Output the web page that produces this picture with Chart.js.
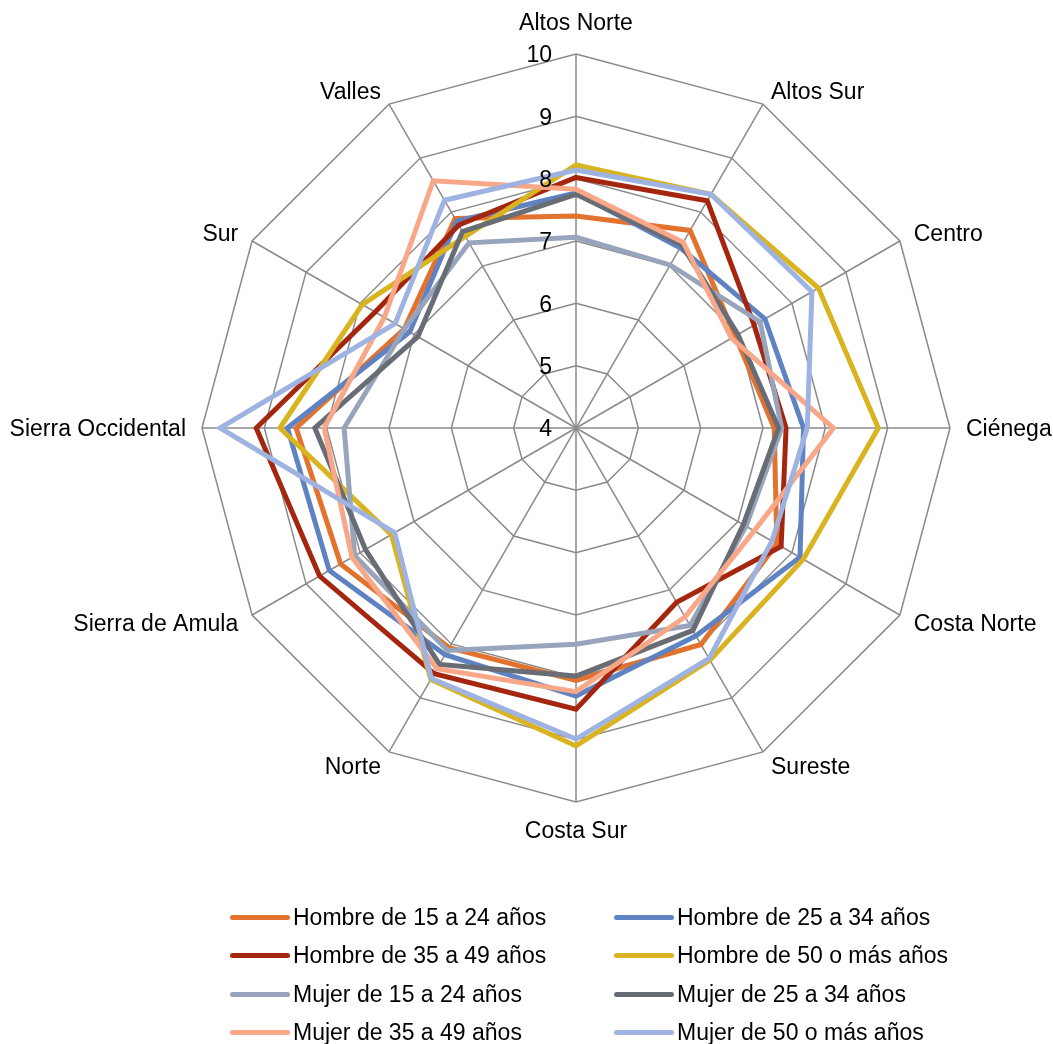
<!DOCTYPE html>
<html>
<head>
<meta charset="utf-8">
<script src="https://cdn.jsdelivr.net/npm/chart.js@4/dist/chart.umd.min.js"></script>
<style>
  html, body { margin: 0; padding: 0; background: #fff; overflow: hidden; }
  body { width: 1053px; height: 1044px; position: relative; font-family: "Liberation Sans", Arial, sans-serif; }
  #c { position: absolute; left: -74px; top: 0; }
  #legend { position: absolute; left: 0; top: 0; width: 1053px; height: 1044px; pointer-events: none; }
  .li { position: absolute; height: 30px; display: flex; align-items: center; font-size: 23px; color: #000; white-space: nowrap; }
  .sw { width: 60px; height: 5px; border-radius: 3px; margin-right: 3px; }
</style>
</head>
<body>
<canvas id="c" width="1300" height="850"></canvas>
<div id="legend"></div>
<script>
const categories = ["Altos Norte", "Altos Sur", "Centro", "Ciénega", "Costa Norte", "Sureste", "Costa Sur", "Norte", "Sierra de Amula", "Sierra Occidental", "Sur", "Valles"];
const tickValues = [4, 5, 6, 7, 8, 9, 10];

const seriesNames = ["Hombre de 15 a 24 años", "Hombre de 25 a 34 años", "Hombre de 35 a 49 años", "Hombre de 50 o más años",
                     "Mujer de 15 a 24 años", "Mujer de 25 a 34 años", "Mujer de 35 a 49 años", "Mujer de 50 o más años"];
const hombre15a24 = [7.40, 7.66, 6.95, 7.18, 7.72, 8.01, 8.05, 8.07, 8.36, 8.49, 7.18, 7.88];
const hombre25a34 = [7.77, 7.34, 7.50, 7.65, 8.15, 7.85, 8.30, 8.20, 8.57, 8.63, 7.08, 7.83];
const hombre35a49 = [8.02, 8.21, 7.30, 7.37, 7.80, 7.23, 8.51, 8.55, 8.75, 9.13, 7.72, 7.76];
const hombre50mas = [8.22, 8.33, 8.49, 8.85, 8.21, 8.30, 9.10, 8.66, 7.42, 8.75, 7.96, 7.55];
const mujer15a24  = [7.06, 7.02, 7.41, 7.30, 7.15, 7.66, 7.47, 8.12, 8.10, 7.72, 7.18, 7.43];
const mujer25a34  = [7.75, 7.39, 7.00, 7.25, 7.10, 7.75, 7.98, 8.38, 7.90, 8.19, 6.93, 7.64];
const mujer35a49  = [7.83, 7.44, 6.88, 8.13, 7.30, 7.50, 8.23, 8.46, 8.15, 8.04, 7.55, 8.58];
const mujer50mas  = [8.14, 8.33, 8.37, 7.71, 7.63, 8.27, 8.99, 8.64, 7.36, 9.71, 7.35, 8.22];

const seriesValues = [hombre15a24, hombre25a34, hombre35a49, hombre50mas, mujer15a24, mujer25a34, mujer35a49, mujer50mas];
const seriesColors = ["#E3722F", "#5F82C2", "#A5260F", "#D9B420", "#98A4BB", "#686C75", "#F8A889", "#9EB3E1"];

const FONT = '"Liberation Sans", Arial, sans-serif';

const datasets = seriesNames.map((name, i) => ({
  label: name,
  data: seriesValues[i],
  borderColor: seriesColors[i],
  backgroundColor: seriesColors[i],
  borderWidth: 5,
  borderJoinStyle: 'miter',
  pointRadius: 0,
  pointHoverRadius: 0,
  fill: false,
  tension: 0,
  order: seriesNames.length - i
}));

// Point labels placed as in the original: sides vertically centred on the label anchor
const pointLabelPlugin = {
  id: 'pointLabelsExcel',
  afterDraw(chart) {
    const scale = chart.scales.r;
    const ctx = chart.ctx;
    const pad = 16;
    ctx.save();
    ctx.font = '23px ' + FONT;
    ctx.fillStyle = '#000';
    ctx.textBaseline = 'middle';
    categories.forEach((label, i) => {
      const p = scale.getPointPosition(i, scale.drawingArea + pad);
      const dx = p.x - scale.xCenter;
      let x = p.x, y = p.y + 2;
      if (Math.abs(dx) < 1) {
        ctx.textAlign = 'center';
        y = p.y < scale.yCenter ? p.y - 14 : p.y + 14;
      } else {
        ctx.textAlign = dx > 0 ? 'left' : 'right';
      }
      ctx.fillText(label, x, y);
    });
    ctx.restore();
  }
};

const tickLabelPlugin = {
  id: 'tickLabels',
  afterDatasetsDraw(chart) {
    const scale = chart.scales.r;
    const ctx = chart.ctx;
    ctx.save();
    ctx.font = '23px ' + FONT;
    ctx.fillStyle = '#000';
    ctx.textAlign = 'right';
    ctx.textBaseline = 'middle';
    tickValues.forEach(v => {
      const p = scale.getPointPositionForValue(0, v);
      ctx.fillText(String(v), p.x - 24, p.y + 2);
    });
    ctx.restore();
  }
};

new Chart(document.getElementById('c'), {
  type: 'radar',
  data: { labels: categories, datasets: datasets },
  options: {
    responsive: false,
    animation: false,
    layout: { padding: { top: 54, bottom: 48, left: 0, right: 0 } },
    plugins: { legend: { display: false }, tooltip: { enabled: false } },
    scales: {
      r: {
        min: 4,
        max: 10,
        ticks: { display: false, stepSize: 1 },
        grid: { color: '#8a8a8a', lineWidth: 1.5 },
        angleLines: { color: '#8a8a8a', lineWidth: 1.5 },
        pointLabels: { display: false }
      }
    }
  },
  plugins: [tickLabelPlugin, pointLabelPlugin]
});

// HTML legend, two columns
const legend = document.getElementById('legend');
const colX = [230, 614];
const rowY = [917, 955, 994, 1032];
seriesNames.forEach((name, i) => {
  const item = document.createElement('div');
  item.className = 'li';
  item.style.left = colX[i % 2] + 'px';
  item.style.top = (rowY[Math.floor(i / 2)] - 15) + 'px';
  const sw = document.createElement('div');
  sw.className = 'sw';
  sw.style.background = seriesColors[i];
  const tx = document.createElement('span');
  tx.textContent = name;
  item.appendChild(sw);
  item.appendChild(tx);
  legend.appendChild(item);
});
</script>
</body>
</html>
